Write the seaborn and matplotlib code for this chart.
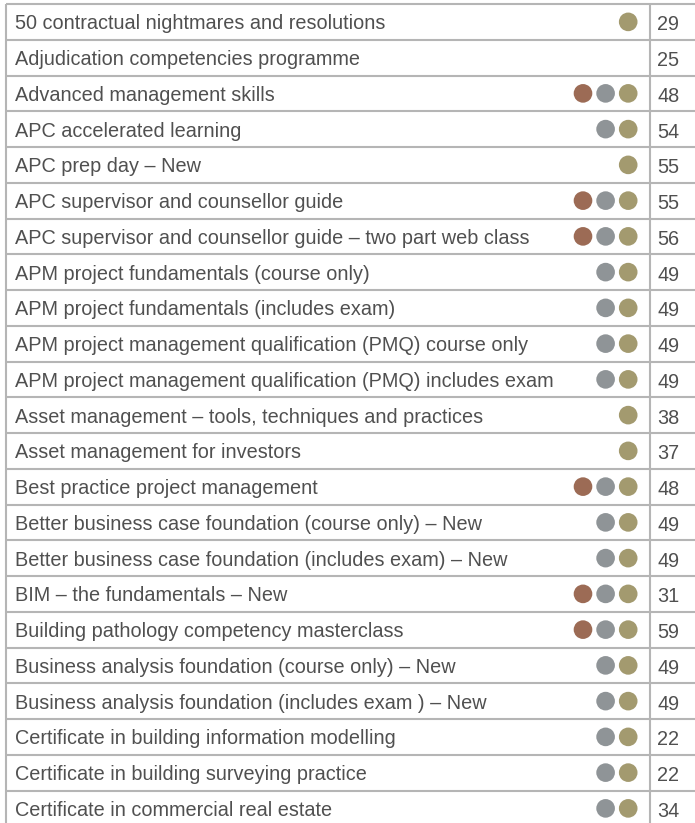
import pandas as pd
import matplotlib.pyplot as plt
import seaborn as sns

courses = [
    "50 contractual nightmares and resolutions",
    "Adjudication competencies programme",
    "Advanced management skills",
    "APC accelerated learning",
    "APC prep day \u2013 New",
    "APC supervisor and counsellor guide",
    "APC supervisor and counsellor guide \u2013 two part web class",
    "APM project fundamentals (course only)",
    "APM project fundamentals (includes exam)",
    "APM project management qualification (PMQ) course only",
    "APM project management qualification (PMQ) includes exam",
    "Asset management \u2013 tools, techniques and practices",
    "Asset management for investors",
    "Best practice project management",
    "Better business case foundation (course only) \u2013 New",
    "Better business case foundation (includes exam) \u2013 New",
    "BIM \u2013 the fundamentals \u2013 New",
    "Building pathology competency masterclass",
    "Business analysis foundation (course only) \u2013 New",
    "Business analysis foundation (includes exam ) \u2013 New",
    "Certificate in building information modelling",
    "Certificate in building surveying practice",
    "Certificate in commercial real estate",
]
pages = [29, 25, 48, 54, 55, 55, 56, 49, 49, 49, 49, 38, 37, 48, 49, 49, 31, 59,
         49, 49, 22, 22, 34]
# b = brown, s = grey, g = gold
levels = ["g", "", "bsg", "sg", "g", "bsg", "bsg", "sg", "sg", "sg", "sg", "g", "g",
          "bsg", "sg", "sg", "bsg", "bsg", "sg", "sg", "sg", "sg", "sg"]

kinds = ["b", "s", "g"]
palette = {"b": "#9c6b55", "s": "#8f9497", "g": "#a39a6f"}

W, H = 695, 823
top_px, row_px = 4, 35.75
left_px, sep_px = 6, 650
line_col = "#b5b5b5"
text_col = "#505050"

rows = []
for i, lv in enumerate(levels):
    for k in lv:
        rows.append({"row": i + 0.5, "slot": 583 + 22.6 * kinds.index(k), "kind": k})
dots = pd.DataFrame(rows)

fig = plt.figure(figsize=(W / 100, H / 100), dpi=100)
ax = fig.add_axes([0, 0, 1, 1])
ax.set_xlim(0, W)
y_bottom = (H - top_px) / row_px
ax.set_ylim(y_bottom, -top_px / row_px)
ax.axis("off")

n = len(courses)
for i in range(n):
    ax.plot([left_px, W], [i, i], color=line_col, lw=1.5, solid_capstyle="butt")
ax.vlines([left_px, sep_px], 0, y_bottom, color=line_col, lw=1.5)

sns.scatterplot(data=dots, x="slot", y="row", hue="kind", palette=palette, s=180,
                linewidth=0, legend=False, ax=ax, clip_on=False)

for i, (c, p) in enumerate(zip(courses, pages)):
    ax.text(15, i + 0.71, c, fontsize=14.3, color=text_col, va="baseline",
            family="Liberation Sans")
    ax.text(657, i + 0.74, str(p), fontsize=14.3, color=text_col, va="baseline",
            family="Liberation Sans")

fig.savefig("out.png", dpi=100)
